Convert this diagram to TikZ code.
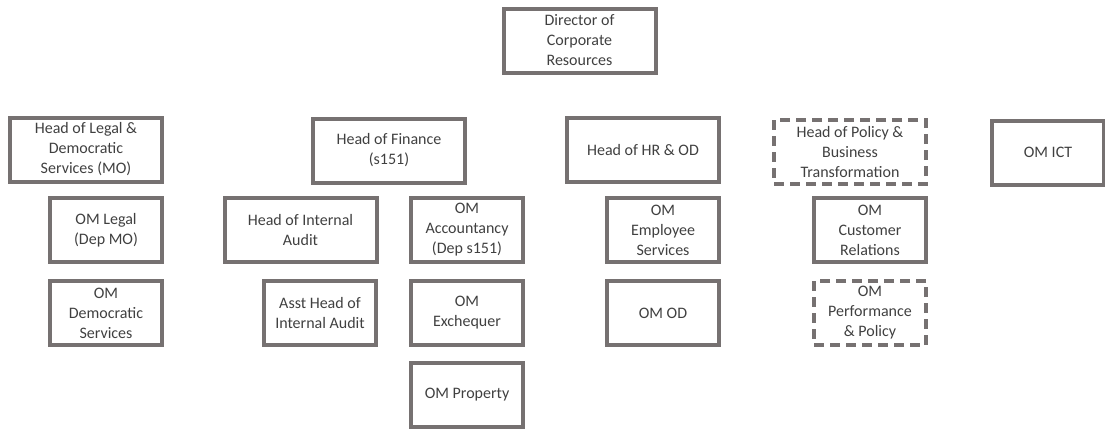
\documentclass[tikz,border=0pt]{standalone}
\usepackage{fontspec}
\setmainfont{Carlito}
\definecolor{boxgray}{RGB}{118,113,113}
\definecolor{txtgray}{RGB}{64,64,64}
\begin{document}
\begin{tikzpicture}[x=1pt,y=-1pt,every node/.style={font=\fontsize{16}{20}\selectfont,inner sep=1pt,draw=boxgray,line width=4pt,text=txtgray,align=center,minimum height=64pt},
  wide/.style={minimum width=152pt},
  narrow/.style={minimum width=112pt},
  vacant/.style={dash pattern=on 10pt off 6pt}]
\useasboundingbox (0,0) rectangle (1105,429);
\node[wide] (dir) at (579.5,40.5) {Director of\\Corporate\\Resources};
\node[wide] (hlegal) at (86,149.5) {Head of Legal \&\\Democratic\\Services (MO)};
\node[narrow] (omlegal) at (106,230) {OM Legal\\(Dep MO)};
\node[narrow] (omdem) at (106,313) {OM\\Democratic\\Services};
\node[wide] (hfin) at (389,150.5) {Head of Finance\\(s151)};
\node[wide] (hia) at (300.5,230) {Head of Internal\\Audit};
\node[narrow] (omacc) at (467,230) {OM\\Accountancy\\(Dep s151)};
\node[narrow] (asstia) at (320,313) {Asst Head of\\Internal Audit};
\node[narrow] (omexch) at (467,313) {OM\\Exchequer};
\node[narrow] (omprop) at (467,394.5) {OM Property};
\node[wide] (hhr) at (643,149.5) {Head of HR \& OD};
\node[narrow] (omemp) at (663,230) {OM\\Employee\\Services};
\node[narrow] (omod) at (663,313) {OM OD};
\node[wide,vacant] (hpol) at (850,152) {Head of Policy \&\\Business\\Transformation};
\node[narrow] (omcust) at (870,230) {OM\\Customer\\Relations};
\node[narrow,vacant] (omperf) at (870,313) {OM\\Performance\\\& Policy};
\node[narrow] (omict) at (1048,152.5) {OM ICT};
\end{tikzpicture}
\end{document}
